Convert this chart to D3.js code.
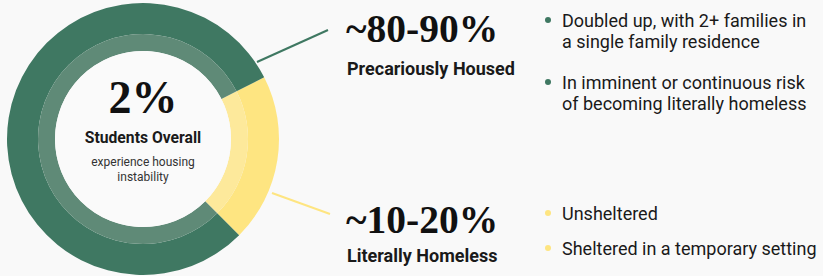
<!DOCTYPE html>
<html>
<head>
<meta charset="utf-8">
<script src="https://cdn.jsdelivr.net/npm/d3@7"></script>
<style>
  html, body { margin: 0; padding: 0; background: #f9f9f9; }
  svg { display: block; }
</style>
</head>
<body>
<div id="chart"></div>
<script>
// data
const segments = ['Literally Homeless', 'Precariously Housed'];
const shares = [20, 80];
const outerColors = ['#fee581', '#3f7862'];
const innerColors = ['#fde99b', '#5f8a77'];
const ranges = ['~10-20%', '~80-90%'];
const bullets = [
  [['Unsheltered'], ['Sheltered in a temporary setting']],
  [['Doubled up, with 2+ families in', 'a single family residence'],
   ['In imminent or continuous risk', 'of becoming literally homeless']]
];
const centerValue = '2%';
const centerLabel = 'Students Overall';
const centerNote = ['experience housing', 'instability'];

const w = 823, h = 276;
const cx = 143, cy = 139;
const serif = '"Liberation Serif", serif';
const sans = 'Roboto, "Noto Sans", sans-serif';

const svg = d3.select('#chart').append('svg').attr('width', w).attr('height', h);
svg.append('rect').attr('width', w).attr('height', h).attr('fill', '#f9f9f9');

const pie = d3.pie().sort(null).startAngle(63 * Math.PI / 180).endAngle(423 * Math.PI / 180);
const arcs = pie(shares);
const outer = d3.arc().innerRadius(105).outerRadius(136);
const inner = d3.arc().innerRadius(88).outerRadius(105);

const g = svg.append('g').attr('transform', `translate(${cx},${cy})`);
g.selectAll('path.outer').data(arcs).enter().append('path')
  .attr('class', 'outer').attr('d', outer).attr('fill', (d, i) => outerColors[i]);
g.selectAll('path.inner').data(arcs).enter().append('path')
  .attr('class', 'inner').attr('d', inner).attr('fill', (d, i) => innerColors[i]);
g.append('circle').attr('r', 88).attr('fill', '#fafafa');

// leader lines
const leaders = [
  { from: [272 - cx, 193 - cy], to: [330 - cx, 214 - cy] },
  { from: [257 - cx, 62 - cy], to: [328 - cx, 30 - cy] }
];
leaders.forEach((l, i) => {
  g.append('line')
    .attr('x1', l.from[0]).attr('y1', l.from[1])
    .attr('x2', l.to[0]).attr('y2', l.to[1])
    .attr('stroke', outerColors[i]).attr('stroke-width', 2);
});

// center text
g.append('text').attr('text-anchor', 'middle').attr('y', -26)
  .attr('font-family', serif).attr('font-weight', 700).attr('font-size', 46)
  .attr('fill', '#111').text(centerValue);
g.append('text').attr('text-anchor', 'middle').attr('y', 4)
  .attr('font-family', sans).attr('font-weight', 700).attr('font-size', 15.7)
  .attr('fill', '#1a1a1a').text(centerLabel);
centerNote.forEach((t, i) => {
  g.append('text').attr('text-anchor', 'middle').attr('y', 27 + i * 15)
    .attr('font-family', sans).attr('font-size', 12)
    .attr('fill', '#333').text(t);
});

// right side blocks
const blockY = [233, 42];
const labelY = [262, 75];
const bulletY = [[220, 255], [27, 89]];
segments.forEach((s, i) => {
  svg.append('text').attr('x', 346).attr('y', blockY[i])
    .attr('font-family', serif).attr('font-weight', 700).attr('font-size', 39.5)
    .attr('fill', '#111').text(ranges[i]);
  svg.append('text').attr('x', 347).attr('y', labelY[i])
    .attr('font-family', sans).attr('font-weight', 700).attr('font-size', 18)
    .attr('fill', '#1a1a1a').text(s);
  bullets[i].forEach((lines, j) => {
    const by = bulletY[i][j];
    svg.append('circle').attr('cx', 548).attr('cy', by - 7).attr('r', 3)
      .attr('fill', outerColors[i]);
    lines.forEach((t, k) => {
      svg.append('text').attr('x', 562).attr('y', by + k * 21)
        .attr('font-family', sans).attr('font-size', 18)
        .attr('fill', '#1a1a1a').text(t);
    });
  });
});
</script>
</body>
</html>
